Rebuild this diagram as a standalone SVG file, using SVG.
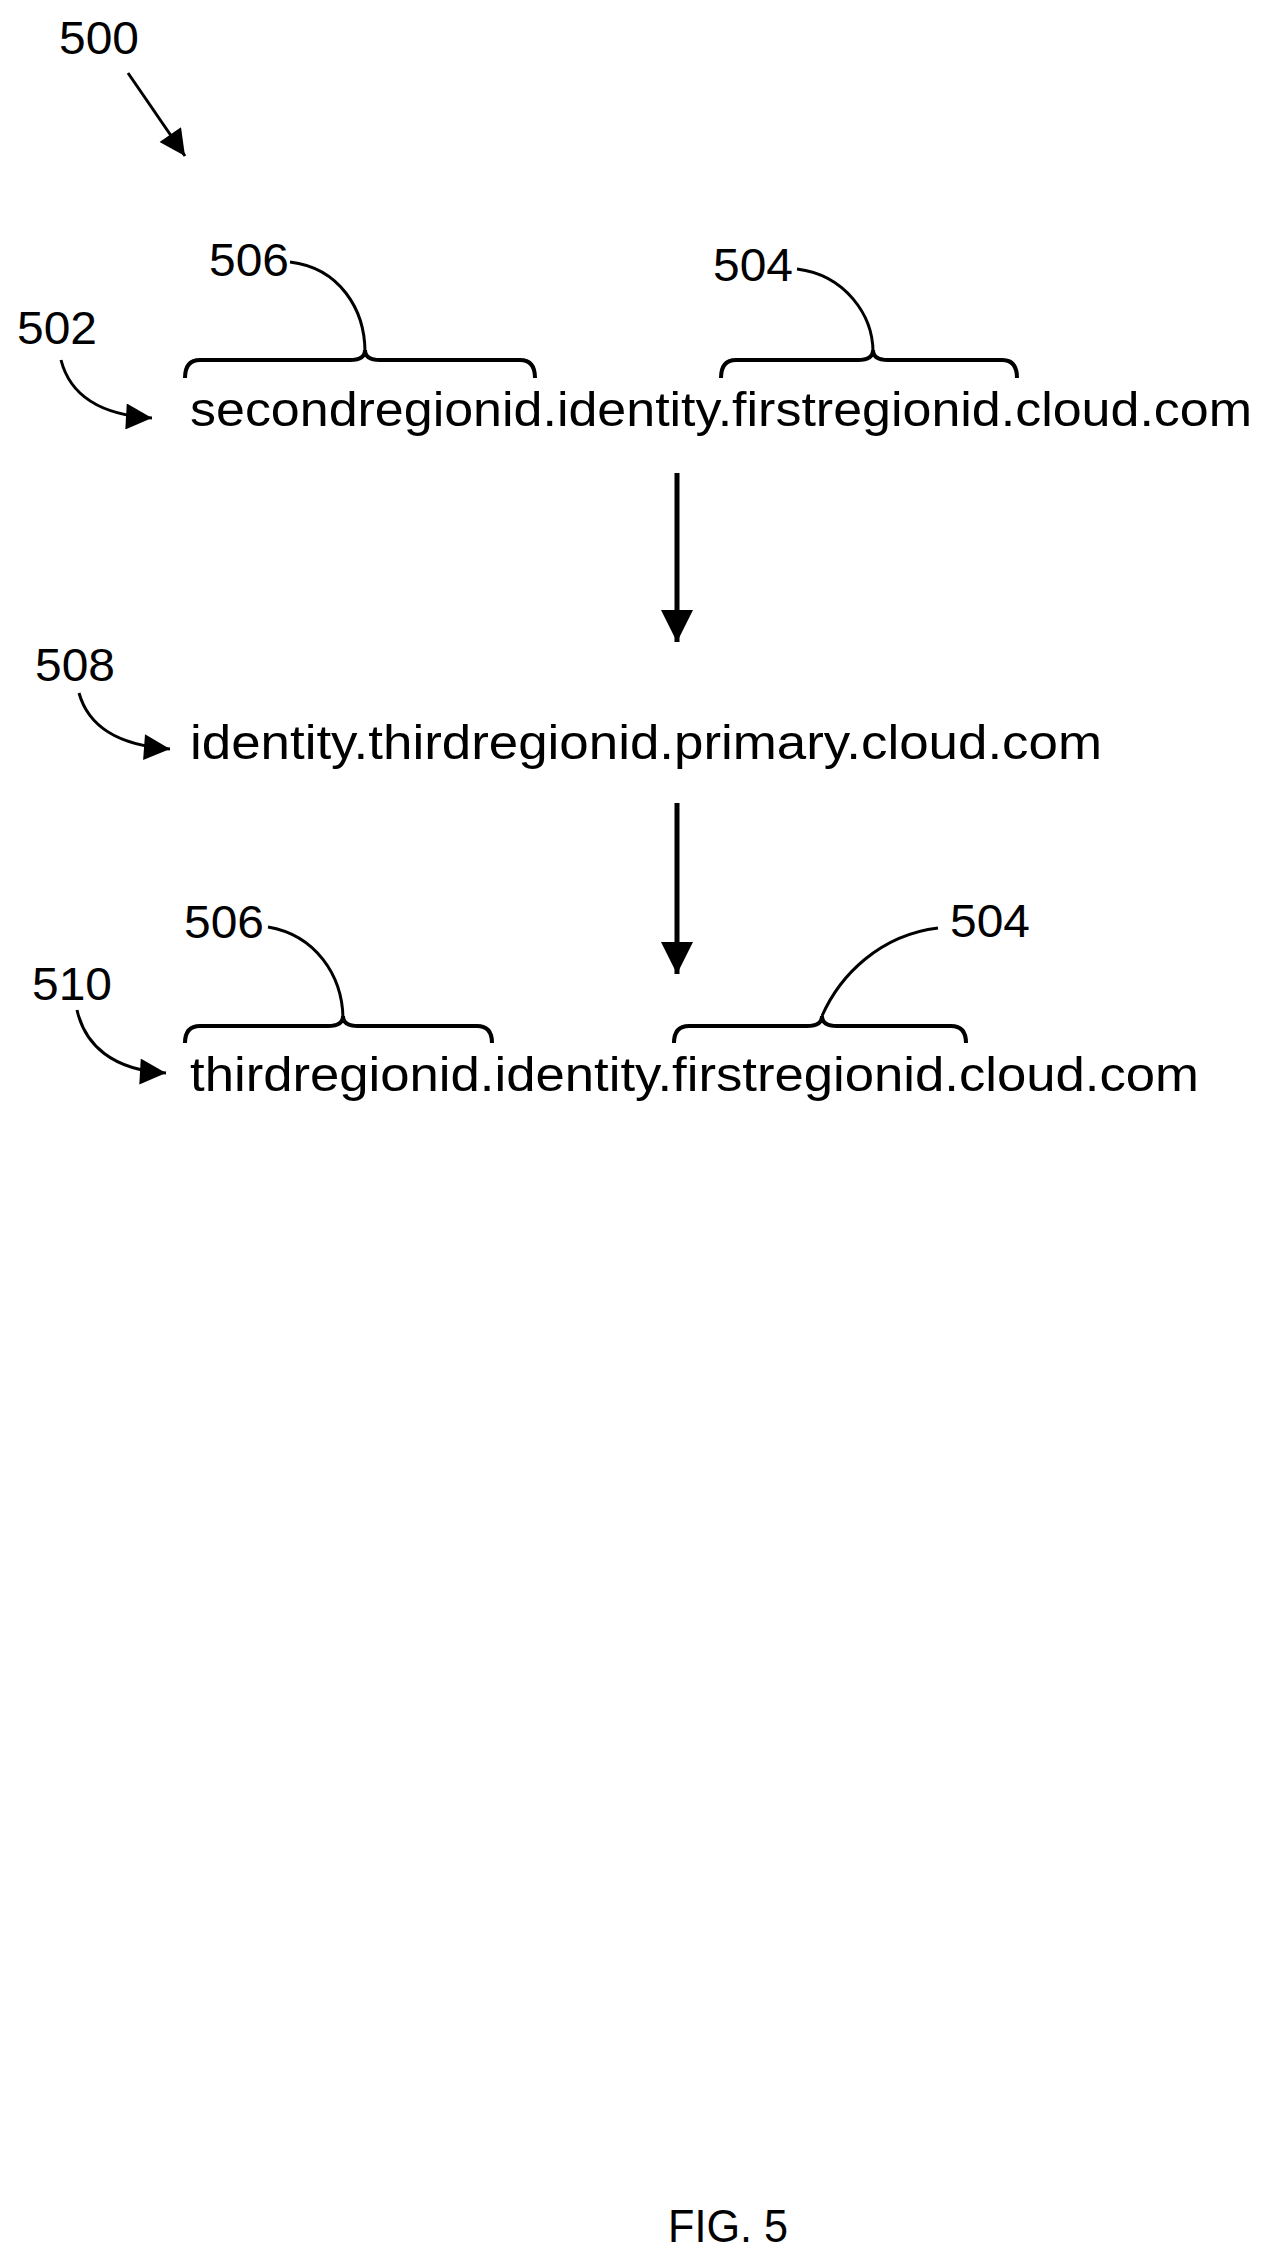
<svg xmlns="http://www.w3.org/2000/svg" width="1264" height="2264" viewBox="0 0 1264 2264">
<style>
text{font-family:"Liberation Sans",Arial,sans-serif;fill:#000}
.lbl{font-size:46px}
.main{font-size:48px}
.ln{fill:none;stroke:#000;stroke-width:3}
.br{fill:none;stroke:#000;stroke-width:4}
</style>
<defs>
<marker id="ahs" viewBox="0 0 10 10" refX="10" refY="5" markerWidth="28" markerHeight="26" markerUnits="userSpaceOnUse" orient="auto">
<path d="M0,0 L10,5 L0,10 z" fill="#000"/>
</marker>
<marker id="ahb" viewBox="0 0 10 10" refX="10" refY="5" markerWidth="38" markerHeight="32" markerUnits="userSpaceOnUse" orient="auto">
<path d="M0,0 L10,5 L0,10 z" fill="#000"/>
</marker>
</defs>
<rect width="1264" height="2264" fill="#fff"/>
<g id="n500"><text class="lbl" x="59" y="54" textLength="80" lengthAdjust="spacingAndGlyphs">500</text></g>
<g id="n502"><text class="lbl" x="17" y="344" textLength="80" lengthAdjust="spacingAndGlyphs">502</text>
<text class="main" x="190" y="426" textLength="1062" lengthAdjust="spacingAndGlyphs">secondregionid.identity.firstregionid.cloud.com</text></g>
<g id="n506a"><text class="lbl" x="209" y="276" textLength="80" lengthAdjust="spacingAndGlyphs">506</text>
<path class="ln" d="M290,262 C340,268 365,310 365,352"/>
<path class="br" d="M185,378 Q185,360 200,360 L350,360 Q365,360 365,350 Q365,360 380,360 L520,360 Q535,360 535,378"/></g>
<g id="n504a"><text class="lbl" x="713" y="281" textLength="80" lengthAdjust="spacingAndGlyphs">504</text>
<path class="ln" d="M797,269 C845,275 873,315 873,352"/>
<path class="br" d="M721,378 Q721,360 736,360 L858,360 Q873,360 873,350 Q873,360 888,360 L1002,360 Q1017,360 1017,378"/></g>
<g id="n508"><text class="lbl" x="35" y="681" textLength="80" lengthAdjust="spacingAndGlyphs">508</text>
<text class="main" x="190" y="759" textLength="912" lengthAdjust="spacingAndGlyphs">identity.thirdregionid.primary.cloud.com</text></g>
<g id="n510"><text class="lbl" x="32" y="1000" textLength="80" lengthAdjust="spacingAndGlyphs">510</text>
<text class="main" x="190" y="1091" textLength="1009" lengthAdjust="spacingAndGlyphs">thirdregionid.identity.firstregionid.cloud.com</text></g>
<g id="n506b"><text class="lbl" x="184" y="938" textLength="80" lengthAdjust="spacingAndGlyphs">506</text>
<path class="ln" d="M268,927 C315,935 343,975 343,1020"/>
<path class="br" d="M185,1043 Q185,1026 200,1026 L328,1026 Q343,1026 343,1016 Q343,1026 358,1026 L477,1026 Q492,1026 492,1043"/></g>
<g id="n504b"><text class="lbl" x="950" y="937" textLength="80" lengthAdjust="spacingAndGlyphs">504</text>
<path class="ln" d="M938,928 C880,935 840,975 822,1016"/>
<path class="br" d="M674,1043 Q674,1026 689,1026 L807,1026 Q822,1026 822,1016 Q822,1026 837,1026 L951,1026 Q966,1026 966,1043"/></g>
<g id="fig"><text x="668" y="2242" font-size="46" textLength="120" lengthAdjust="spacingAndGlyphs">FIG. 5</text></g>
<g id="connectors">
<path class="ln" d="M128,73 L185,156" marker-end="url(#ahs)"/>
<path class="ln" d="M61,360 C70,395 100,415 152,418" marker-end="url(#ahs)"/>
<path class="ln" d="M79,693 C88,725 115,745 170,749" marker-end="url(#ahs)"/>
<path class="ln" d="M77,1010 C85,1045 112,1070 166,1073" marker-end="url(#ahs)"/>
<path class="ln" d="M677,473 L677,642" marker-end="url(#ahb)" style="stroke-width:5"/>
<path class="ln" d="M677,803 L677,974" marker-end="url(#ahb)" style="stroke-width:5"/>
</g>
</svg>
